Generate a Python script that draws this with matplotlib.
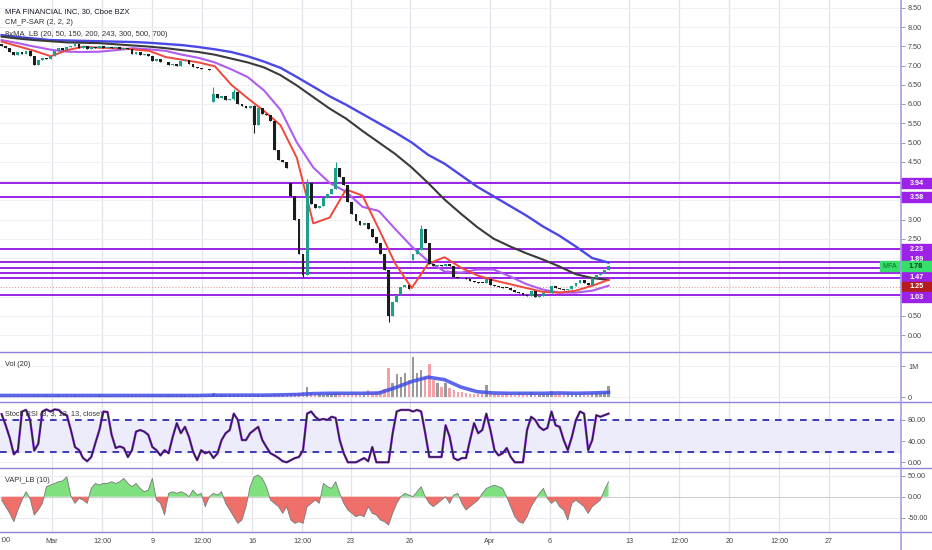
import numpy as np
import matplotlib
matplotlib.use("Agg")
import matplotlib.pyplot as plt
from matplotlib.lines import Line2D
from matplotlib.patches import Rectangle
from matplotlib.transforms import offset_copy

plt.rcParams['font.family'] = ['Liberation Sans', 'DejaVu Sans']

# ---------------- data ----------------
close = [7.50,7.45,7.35,7.27,7.35,7.30,7.38,7.25,7.02,7.15,
         7.20,7.18,7.25,7.38,7.45,7.40,7.48,7.50,7.56,7.45,
         7.50,7.42,7.48,7.45,7.50,7.46,7.48,7.45,7.47,7.44,
         7.46,7.42,7.30,7.35,7.28,7.30,7.25,7.12,7.18,7.10,
         7.08,7.02,7.05,7.00,7.12,7.15,7.05,6.95,6.93,6.90,
         6.92,6.88,6.25,6.15,6.20,6.10,6.12,6.30,6.00,5.95,
         5.90,5.95,5.45,5.90,5.75,5.72,5.55,4.80,4.55,4.50,
         4.35,3.60,3.00,2.10,1.55,3.95,3.40,3.30,3.35,3.55,
         3.65,3.80,4.35,4.10,3.90,3.45,3.15,2.95,2.85,2.90,
         2.75,2.55,2.40,2.10,1.70,0.50,0.85,1.05,1.25,1.30,
         1.20,2.10,2.20,2.75,2.40,1.85,1.80,1.82,1.78,1.85,
         1.80,1.50,1.48,1.47,1.45,1.40,1.38,1.36,1.35,1.45,
         1.30,1.28,1.25,1.23,1.22,1.18,1.12,1.10,1.05,1.02,
         1.15,1.00,1.02,1.08,1.10,1.28,1.22,1.20,1.18,1.20,
         1.28,1.35,1.42,1.35,1.30,1.48,1.55,1.62,1.70,1.78]
first_open = 7.55
gap_bars = [52, 71, 101]
gap_opens = [6.05, 3.95, 1.95]
wick_bars = [52, 57, 62, 74, 75, 82, 95, 103]
wick_high = [6.45, 6.39, 5.97, 1.95, 4.05, 4.50, 1.70, 2.85]
wick_low = [6.05, 6.10, 5.25, 1.51, 1.55, 4.10, 0.34, 2.20]

volume_m = [0.04,0.03,0.05,0.03,0.04,0.06,0.03,0.04,0.07,0.04,
            0.03,0.05,0.04,0.03,0.05,0.04,0.03,0.04,0.05,0.03,
            0.04,0.03,0.04,0.03,0.05,0.03,0.04,0.03,0.04,0.03,
            0.04,0.05,0.06,0.04,0.05,0.04,0.05,0.06,0.04,0.05,
            0.04,0.05,0.04,0.05,0.06,0.05,0.04,0.05,0.06,0.05,
            0.04,0.05,0.12,0.07,0.06,0.05,0.06,0.08,0.06,0.05,
            0.06,0.07,0.10,0.07,0.06,0.05,0.06,0.09,0.08,0.07,
            0.08,0.12,0.14,0.12,0.15,0.33,0.12,0.10,0.09,0.08,
            0.09,0.10,0.14,0.10,0.09,0.10,0.11,0.09,0.08,0.10,
            0.23,0.12,0.15,0.18,0.25,0.92,0.44,0.74,0.66,0.76,
            0.55,1.28,0.76,0.87,0.66,1.06,0.55,0.44,0.33,0.44,
            0.28,0.23,0.17,0.15,0.12,0.10,0.09,0.11,0.10,0.40,
            0.12,0.10,0.09,0.08,0.10,0.09,0.08,0.12,0.09,0.08,
            0.15,0.09,0.08,0.10,0.09,0.20,0.10,0.09,0.10,0.12,
            0.10,0.11,0.10,0.12,0.10,0.14,0.12,0.13,0.15,0.35]

# moving averages sampled evenly across the data span
ma_blue = [7.79,7.74,7.70,7.66,7.65,7.64,7.63,7.62,7.61,7.59,7.56,7.53,7.48,7.42,7.35,7.24,
           7.10,6.94,6.70,6.45,6.20,5.98,5.74,5.50,5.26,5.00,4.68,4.45,4.15,3.85,3.60,3.35,
           3.10,2.82,2.58,2.30,2.00,1.88]
ma_black = [7.75,7.70,7.66,7.63,7.60,7.59,7.58,7.55,7.52,7.49,7.45,7.40,7.35,7.28,7.18,7.08,
            6.95,6.75,6.48,6.18,5.88,5.62,5.30,5.00,4.70,4.35,3.95,3.52,3.15,2.80,2.50,2.30,
            2.12,1.96,1.78,1.58,1.48,1.43]
ma_purple = [7.66,7.58,7.49,7.41,7.36,7.35,7.36,7.40,7.45,7.42,7.38,7.28,7.20,7.08,6.90,6.70,
             6.35,5.85,5.00,4.35,3.95,3.72,3.33,3.22,2.75,2.30,1.92,1.65,1.62,1.70,1.70,1.52,
             1.32,1.18,1.10,1.10,1.15,1.28]
ma_red = [7.62,7.50,7.38,7.24,7.40,7.49,7.46,7.45,7.42,7.38,7.22,7.15,7.08,6.98,6.50,6.15,
          5.82,5.45,4.60,2.90,3.05,3.78,3.62,2.75,1.85,1.22,1.85,2.02,1.75,1.55,1.42,1.32,
          1.22,1.12,1.10,1.15,1.28,1.43]
vol_ma_m = [0.05,0.05,0.05,0.05,0.05,0.05,0.05,0.05,0.05,0.05,0.05,0.05,0.05,0.06,0.06,0.06,
            0.06,0.07,0.08,0.11,0.12,0.12,0.12,0.13,0.30,0.50,0.64,0.56,0.32,0.17,0.13,0.12,
            0.12,0.12,0.13,0.12,0.13,0.15]

levels = [3.94, 3.58, 2.23, 1.89, 1.75, 1.62, 1.47, 1.03]
box_levels = [3.94, 3.58, 2.23, 1.89, 1.47, 1.03]
stop_level = 1.25
last_price = 1.78
hidden_price_ticks = [1.0, 1.5, 2.0, 3.5, 4.0]   # covered by the level tags

stoch = [91,70,46,15,23,96,99,80,22,35,96,100,96,100,99,92,89,61,29,23,
         8,2,10,36,61,96,95,52,27,30,27,10,23,58,61,58,52,29,23,13,
         23,17,48,74,55,67,48,20,4,23,17,20,8,17,42,55,61,92,80,42,
         42,55,61,67,42,29,17,13,8,2,0,4,8,10,23,92,96,86,80,82,
         80,86,84,42,17,0,0,0,4,8,2,29,0,0,0,0,55,96,99,99,
         99,96,99,96,55,10,10,10,10,70,48,8,4,8,8,42,74,55,61,92,
         61,23,13,17,27,10,0,0,0,61,86,80,67,61,65,96,70,67,42,23,
         48,80,96,92,23,42,89,86,89,92]

vapi = [-8,-24,-40,-60,-32,-8,12,-5,-44,-32,-16,24,28,32,36,38,48,2,-16,-4,
        -8,-16,20,32,28,32,32,36,32,36,44,32,24,32,20,12,16,44,-8,-16,
        -44,8,12,8,12,8,0,16,4,8,-24,0,8,4,12,-16,-32,-48,-64,-56,
        -24,24,48,52,44,24,-8,-16,-24,-40,-24,-56,-64,-60,-64,-24,-16,-8,-16,32,
        24,20,36,8,-16,-32,-40,-48,-44,-48,-24,-40,-44,-56,-60,-68,-40,-16,0,8,
        4,0,12,24,0,-16,-24,-16,-8,0,-16,4,8,-16,-32,-24,-16,-8,8,20,
        24,28,24,20,0,-24,-48,-60,-64,-48,-24,-8,8,20,-4,-16,-8,-24,-32,-56,
        -16,-8,-16,-24,-40,-24,-16,-8,16,36]

tick_labels = ['Mar', '12:00', '9', '12:00', '16', '12:00', '23', '26', 'Apr', '6',
               '13', '12:00', '20', '12:00', '27']

# ---------------- layout ----------------
W, H = 932, 550
AX_R = 901
DATA_R = 608
fig = plt.figure(figsize=(W / 100, H / 100), dpi=100)
fig.patch.set_facecolor('white')

n = len(close)
ppb = DATA_R / (n - 1)          # pixels per bar
xmax = AX_R / ppb
tick_px = [50, 101, 151, 201, 251, 301, 350, 409, 489, 549, 629, 679, 729, 779, 829]
tick_pos = [p / ppb for p in tick_px]

def pane(top, bottom):
    a = fig.add_axes([0, 1 - bottom / H, AX_R / W, (bottom - top) / H])
    a.set_xlim(-0.4, xmax)
    for s in ['top', 'left', 'bottom', 'right']:
        a.spines[s].set_visible(False)
    a.yaxis.tick_right()
    a.tick_params(axis='y', labelsize=5.2, colors='#444444', length=3, width=0.6, pad=2)
    a.tick_params(axis='y', color='#8f8f8f')
    a.set_xticks(tick_pos)
    a.tick_params(axis='x', length=0, labelbottom=False)
    a.grid(axis='x', color='#e2e2ea', lw=0.9)
    a.set_axisbelow(True)
    return a

ax = pane(0, 352)
axv = pane(352, 402)
axs = pane(402, 468)
axa = pane(468, 532)

x = np.arange(n)
close_a = np.array(close)
opens = np.concatenate([[first_open], close_a[:-1]])
for b, o in zip(gap_bars, gap_opens):
    opens[b] = o
hi = np.maximum(opens, close_a)
lo = np.minimum(opens, close_a)
for b, h_, l_ in zip(wick_bars, wick_high, wick_low):
    hi[b] = max(hi[b], h_)
    lo[b] = min(lo[b], l_)
up = close_a >= opens

# ---------------- main pane ----------------
ax.set_ylim((335 - 352) / 38.5, 335 / 38.5)
yt = np.arange(0, 8.51, 0.5)
ax.set_yticks(yt)
ax.set_yticklabels(['' if any(abs(v - h) < 1e-6 for h in hidden_price_ticks) else f'{v:.2f}'
                    for v in yt])
ax.grid(axis='y', color='#f0f0f4', lw=0.8)

ma_x = np.linspace(0, n - 1, len(ma_blue))
ax.plot(ma_x, ma_blue, color='#4a48e6', lw=1.7, zorder=3)
ax.plot(ma_x, ma_black, color='#3a3a3a', lw=1.5, zorder=3)
ax.plot(ma_x, ma_purple, color='#b05cf0', lw=1.5, zorder=3)
ax.plot(ma_x, ma_red, color='#f0473c', lw=1.4, zorder=3)

for lv in levels:
    ax.axhline(lv, color='#9b22e6', lw=1.4, zorder=2)
ax.axhline(stop_level, color='#e58a8a', lw=0.7, ls=(0, (1, 2)), zorder=2)

cols = np.where(up, '#1f9e8a', '#1c1c1c')
ax.vlines(x, lo, hi, colors=cols, lw=0.8, zorder=4)
ax.bar(x, np.maximum(np.abs(close_a - opens), 0.02),
       bottom=np.minimum(opens, close_a), width=0.7, color=cols, zorder=4, linewidth=0)

# right-side price boxes (nudged apart vertically like the reference scale labels)
ytr = ax.get_yaxis_transform()
bw = (W - AX_R) / AX_R
BOX_H = 10
bh = BOX_H / 38.5
box_nudge = {3.94: 0, 3.58: 0, 2.23: 0, 1.89: 3, 1.47: 1, 1.03: -2}

def price_box(v, color, label, tcolor='white', nudge=0, x0=1.0, width=bw, fs=5.2,
              tx=None, weight='bold', z=20):
    tr = offset_copy(ytr, fig=fig, y=nudge, units='dots')
    ax.add_patch(Rectangle((x0, v - bh / 2), width, bh, transform=tr, color=color,
                           clip_on=False, zorder=z))
    ax.text(x0 + width / 2 if tx is None else tx, v, label, transform=tr, ha='center',
            va='center', fontsize=fs, color=tcolor, fontweight=weight, clip_on=False,
            zorder=z + 1)

purple_box = '#9b22e6'
for lv in box_levels[:-1]:
    price_box(lv, purple_box, f'{lv:.2f}', nudge=box_nudge[lv])
price_box(stop_level, '#b71c1c', f'{stop_level:.2f}', nudge=0, z=24)
price_box(box_levels[-1], purple_box, f'{box_levels[-1]:.2f}', nudge=box_nudge[1.03], z=26)
# MFA last-price tag
price_box(last_price, '#35e06a', f'{last_price:.2f}', tcolor='#173d22',
          x0=880 / AX_R, width=(W - 880) / AX_R, tx=(AX_R + 15) / AX_R, z=22)
ax.text(890 / AX_R, last_price, 'MFA', transform=ytr, ha='center', va='center',
        fontsize=5.0, color='#1d5e2e', clip_on=False, zorder=23)

# ---------------- volume pane ----------------
axv.set_ylim(-0.161e6, 1.452e6)
axv.set_yticks([0, 1e6])
axv.set_yticklabels(['0', '1M'])
axv.grid(axis='y', color='#f0f0f4', lw=0.8)
vcols = np.where(up, '#9a9a9a', '#f3a0a6')
axv.bar(x, np.array(volume_m) * 1e6, width=0.6, color=vcols, linewidth=0, zorder=2)
axv.plot(ma_x, np.array(vol_ma_m) * 1e6, color='#3f4de6', lw=2.6, alpha=0.85, zorder=3)

# ---------------- stoch RSI pane ----------------
axs.set_ylim((462.3 - 468) / 0.529, (462.3 - 402) / 0.529)
axs.set_yticks([0, 40, 80])
axs.set_yticklabels(['0.00', '40.00', '80.00'])
axs.grid(axis='y', color='#f0f0f4', lw=0.8)
axs.axhspan(20, 80, color='#ececfb', zorder=1)
axs.axhline(80, color='#1e1ea6', lw=1.2, ls=(0, (4, 3.5)), zorder=2)
axs.axhline(20, color='#1e1ea6', lw=1.2, ls=(0, (4, 3.5)), zorder=2)
axs.plot(x, stoch, color='#8a2be2', lw=1.7, zorder=3)
axs.plot(x, stoch, color='#202020', lw=0.8, zorder=4)

# ---------------- VAPI pane ----------------
axa.set_ylim((496.7 - 532) / 0.416, (496.7 - 468) / 0.416)
axa.set_yticks([-50, 0, 50])
axa.set_yticklabels(['-50.00', '0.00', '50.00'])
axa.grid(axis='y', color='#ececf0', lw=0.8)
va = np.array(vapi, dtype=float)
axa.fill_between(x, va, 0, where=va >= 0, interpolate=True, color='#7fe07f', lw=0, zorder=2)
axa.fill_between(x, va, 0, where=va <= 0, interpolate=True, color='#ef6f6a', lw=0, zorder=2)
axa.plot(x, va, color='#7a7a7a', lw=0.6, zorder=3)
axa.axhline(0, color='#d0d0d0', lw=0.8, zorder=1)

axa.tick_params(axis='x', labelbottom=True, labelsize=5.2, colors='#444444', pad=4)
axa.set_xticklabels(tick_labels)

# ---------------- texts ----------------
def ftext(px, py, s, **kw):
    fig.text(px / W, 1 - py / H, s, va='center', ha='left', **kw)

ftext(5, 12, 'MFA FINANCIAL INC, 30, Cboe BZX', fontsize=5.5, color='#131722')
ftext(5, 23, 'CM_P-SAR (2, 2, 2)', fontsize=5.5, color='#333333')
ftext(5, 34, '8xMA_LB (20, 50, 150, 200, 243, 300, 500, 700)', fontsize=5.5, color='#333333')
ftext(5, 365, 'Vol (20)', fontsize=5.3, color='#333333')
ftext(5, 414, 'Stoch RSI (3, 3, 12, 13, close)', fontsize=5.3, color='#333333')
ftext(5, 481, 'VAPI_LB (10)', fontsize=5.3, color='#333333')
ftext(0, 541, ':00', fontsize=5.2, color='#444444')

# separators and right axis line
for py in [352, 402, 468, 532]:
    fig.add_artist(Line2D([0, 1], [1 - py / H] * 2, color='#8c84d6', lw=1.0, zorder=30))
fig.add_artist(Line2D([AX_R / W] * 2, [0, 1], color='#a89ce6', lw=1.2, zorder=30))

fig.savefig('out.png', dpi=100, facecolor='white')
